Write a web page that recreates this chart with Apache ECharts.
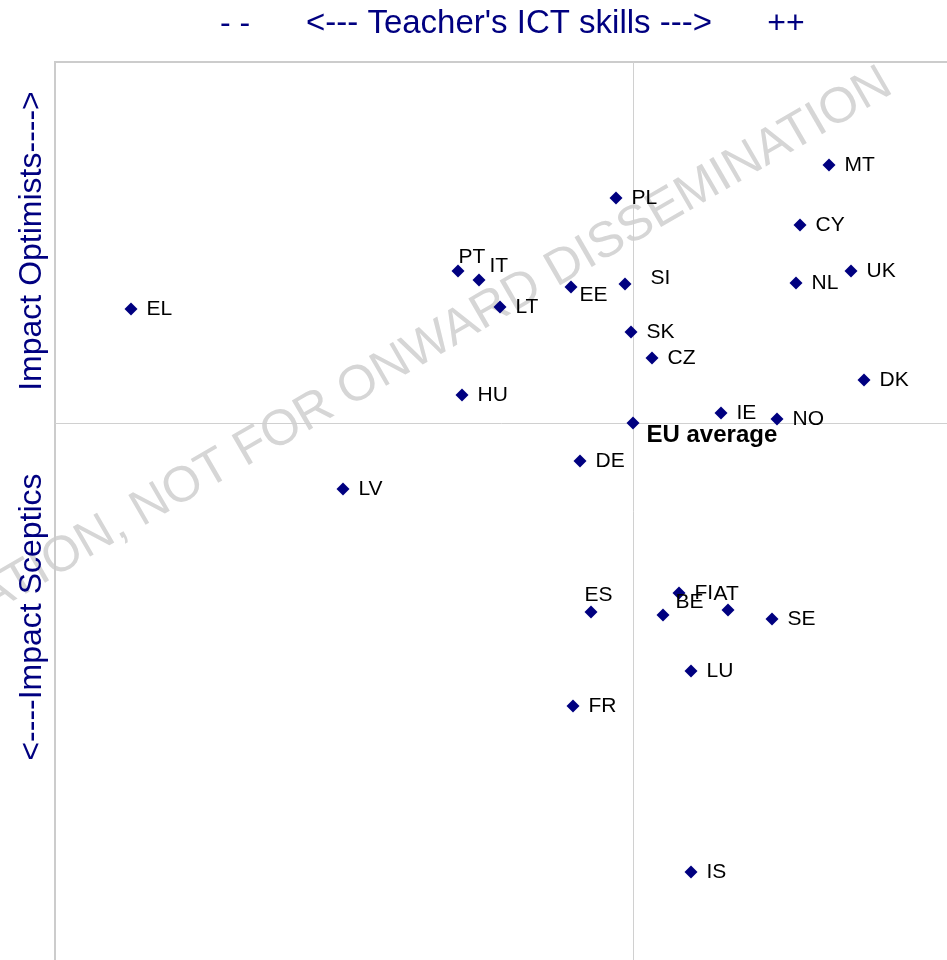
<!DOCTYPE html>
<html>
<head>
<meta charset="utf-8">
<script src="https://cdn.jsdelivr.net/npm/echarts@6/dist/echarts.min.js"></script>
<style>
  html, body { margin: 0; padding: 0; background: #fff; }
  #main { width: 947px; height: 960px; }
</style>
</head>
<body>
<div id="main"></div>
<script>
// countries and their position (x = teacher's ICT skills, y = impact opinion), EU average = 0,0
var countries = ['EL', 'MT', 'PL', 'CY', 'PT', 'IT', 'UK', 'NL', 'SI', 'EE', 'LT', 'SK', 'CZ', 'DK',
                 'HU', 'IE', 'NO', 'DE', 'LV', 'FI', 'AT', 'ES', 'BE', 'SE', 'LU', 'FR', 'IS'];
var ictSkills = [-5.02, 1.96, -0.17, 1.67, -1.75, -1.54, 2.18, 1.63, -0.08, -0.62, -1.33, -0.02, 0.19, 2.31,
                 -1.71, 0.88, 1.44, -0.53, -2.90, 0.46, 0.95, -0.42, 0.30, 1.39, 0.58, -0.60, 0.58];
var impactOpinion = [1.14, 2.58, 2.25, 1.98, 1.52, 1.43, 1.52, 1.40, 1.39, 1.36, 1.16, 0.91, 0.65, 0.43,
                     0.28, 0.10, 0.04, -0.38, -0.66, -1.70, -1.87, -1.89, -1.92, -1.96, -2.48, -2.83, -4.49];
var euAverage = [0, 0];

// a few labels sit away from the default right-hand spot
var labelShift = {
    PT: [-15, -14],
    IT: [-5, -14],
    SI: [10, -6],
    EE: [-7, 8],
    BE: [-3, -13],
    AT: [-30, -16],
    ES: [-22, -17]
};

var navy = '#000080';
var font = 'Liberation Sans, Arial, sans-serif';

var pointData = countries.map(function (c, i) {
    var item = { name: c, value: [ictSkills[i], impactOpinion[i]] };
    if (labelShift[c]) {
        item.label = { offset: labelShift[c] };
    }
    return item;
});

var myChart = echarts.init(document.getElementById('main'));
myChart.setOption({
    animation: false,
    backgroundColor: '#fff',
    grid: {
        left: 55,
        top: 62,
        width: 902,
        height: 908,
        outerBoundsMode: 'none',
        containLabel: false,
        show: true,
        borderColor: '#cccccc',
        borderWidth: 2
    },
    xAxis: {
        type: 'value',
        min: -5.78,
        max: 3.24,
        axisLine: { onZero: true, lineStyle: { color: '#d0d0d0', width: 1 } },
        axisTick: { show: false },
        axisLabel: { show: false },
        splitLine: { show: false }
    },
    yAxis: {
        type: 'value',
        min: -5.47,
        max: 3.61,
        axisLine: { onZero: true, lineStyle: { color: '#d0d0d0', width: 1 } },
        axisTick: { show: false },
        axisLabel: { show: false },
        splitLine: { show: false }
    },
    graphic: [
        {
            type: 'text',
            x: 888,
            y: 80,
            rotation: Math.PI / 6,
            z: -10,
            silent: true,
            style: {
                text: 'CIRCULATION, NOT FOR ONWARD DISSEMINATION',
                fill: '#d6d6d6',
                font: '50px ' + font,
                textAlign: 'right',
                textVerticalAlign: 'middle'
            }
        },
        { type: 'text', x: 235, y: 24, style: { text: '- -', fill: navy, font: '32px ' + font, textAlign: 'center', textVerticalAlign: 'middle' } },
        { type: 'text', x: 509, y: 24, style: { text: "<--- Teacher's ICT skills --->", fill: navy, font: '33px ' + font, textAlign: 'center', textVerticalAlign: 'middle' } },
        { type: 'text', x: 786, y: 24, style: { text: '++', fill: navy, font: '32px ' + font, textAlign: 'center', textVerticalAlign: 'middle' } },
        { type: 'text', x: 32, y: 241, rotation: Math.PI / 2, style: { text: 'Impact Optimists---->', fill: navy, font: '32px ' + font, textAlign: 'center', textVerticalAlign: 'middle' } },
        { type: 'text', x: 32, y: 617, rotation: Math.PI / 2, style: { text: '<----Impact Sceptics', fill: navy, font: '32px ' + font, textAlign: 'center', textVerticalAlign: 'middle' } }
    ],
    series: [
        {
            name: 'countries',
            type: 'scatter',
            symbol: 'diamond',
            symbolSize: 13,
            itemStyle: { color: navy, opacity: 1 },
            label: {
                show: true,
                position: 'right',
                distance: 9,
                formatter: '{b}',
                color: '#000',
                fontSize: 21,
                fontFamily: font
            },
            data: pointData
        },
        {
            name: 'EU average',
            type: 'scatter',
            symbol: 'diamond',
            symbolSize: 13,
            itemStyle: { color: navy, opacity: 1 },
            label: {
                show: true,
                position: 'right',
                distance: 9,
                offset: [-2, 12],
                formatter: '{b}',
                color: '#000',
                fontSize: 24,
                fontWeight: 'bold',
                fontFamily: font
            },
            data: [{ name: 'EU average', value: euAverage }]
        }
    ]
});
</script>
</body>
</html>
